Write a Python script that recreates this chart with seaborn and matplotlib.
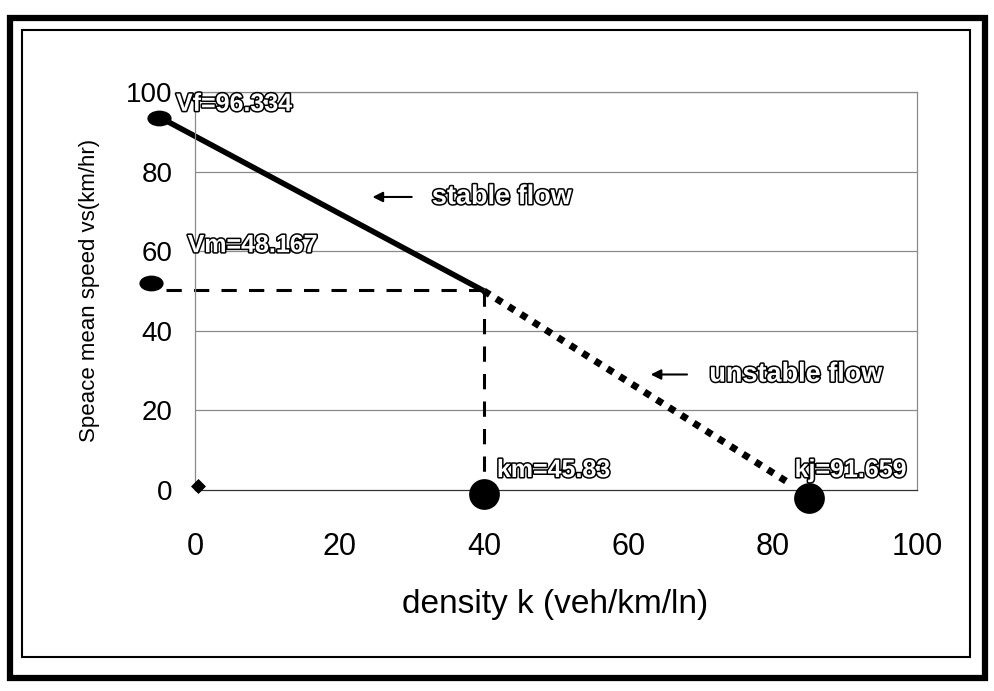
import matplotlib
matplotlib.use("Agg")
import matplotlib.pyplot as plt
import matplotlib.patheffects as pe
from matplotlib.path import Path
from matplotlib.patches import Rectangle
from matplotlib.transforms import Affine2D
import seaborn as sns

sns.set_theme(style="white")
plt.rcParams["font.family"] = ["Liberation Sans", "DejaVu Sans"]
plt.rcParams["text.color"] = "black"
plt.rcParams["axes.labelcolor"] = "black"
plt.rcParams["xtick.labelcolor"] = "black"
plt.rcParams["ytick.labelcolor"] = "black"

# values (density k, speed v)
stable_k = [-3.7, 40]
stable_v = [92.5, 50]
unstable_k = [40, 82]
unstable_v = [50, 2]
vm_k = [-4, 40]
vm_v = [50.3, 50.3]
km_k = [40, 40]
km_v = [50, 4]

ellipse_k = [-5, -6]
ellipse_v = [93.5, 52]
dot_k = [40, 85]
dot_v = [-1, -2]
diamond_k = [0.5]
diamond_v = [1]

labels = ["Vf=96.334", "Vm=48.167", "km=45.83", "kj=91.659"]
label_k = [-2.6, -1, 41.8, 83]
label_v = [97, 61.5, 5, 5]

flow_text = ["stable flow", "unstable flow"]
flow_k = [32.8, 71.2]
flow_v = [73.6, 29]
arrow_from = [30.4, 68.5]
arrow_to = [24.2, 62.7]

fig = plt.figure(figsize=(9.94, 6.91), dpi=100)
ax = fig.add_axes([0.196, 0.291, 0.727, 0.576])

# double frame around the whole chart
fig.patches.append(Rectangle((0.010, 0.019), 0.981, 0.955, transform=fig.transFigure,
                             fill=False, lw=4.5, ec="black"))
fig.patches.append(Rectangle((0.022, 0.049), 0.954, 0.907, transform=fig.transFigure,
                             fill=False, lw=1.5, ec="black"))

for y in [20, 40, 60, 80, 100]:
    ax.axhline(y, color="#8a8a8a", lw=0.9, zorder=0)

line_kw = dict(color="black", ax=ax, clip_on=False, estimator=None, sort=False)
sns.lineplot(x=stable_k, y=stable_v, lw=4, solid_capstyle="butt", **line_kw)
sns.lineplot(x=unstable_k, y=unstable_v, lw=5, linestyle=(0, (1, 1.1)),
             dash_capstyle="butt", **line_kw)
sns.lineplot(x=vm_k, y=vm_v, lw=2.2, linestyle=(0, (5, 4)), **line_kw)
sns.lineplot(x=km_k, y=km_v, lw=2.2, linestyle=(0, (5, 4)), **line_kw)

ellipse = Path.unit_circle().transformed(Affine2D().scale(1.6, 1.0))
sns.scatterplot(x=ellipse_k, y=ellipse_v, marker=ellipse, s=260, color="black",
                edgecolor="black", ax=ax, clip_on=False, zorder=5)
sns.scatterplot(x=dot_k, y=dot_v, marker="o", s=420, color="black",
                edgecolor="black", ax=ax, clip_on=False, zorder=5)
sns.scatterplot(x=diamond_k, y=diamond_v, marker="D", s=50, color="black",
                edgecolor="black", ax=ax, clip_on=False, zorder=5)

# hollow lettering: white fill with a thin black outline
outline = [pe.withStroke(linewidth=2.2, foreground="black")]
for txt, k, v in zip(labels, label_k, label_v):
    ax.text(k, v, txt, ha="left", va="center", fontsize=18, fontweight="bold",
            color="white", path_effects=outline, zorder=6)
for txt, k, v, a0, a1 in zip(flow_text, flow_k, flow_v, arrow_from, arrow_to):
    ax.text(k, v, txt, ha="left", va="center", fontsize=19.5, fontweight="bold",
            color="white", path_effects=outline, zorder=6)
    ax.annotate("", xy=(a1, v), xytext=(a0, v),
                arrowprops=dict(arrowstyle="-|>", color="black", lw=1.5,
                                mutation_scale=15))

ax.set_xlim(0, 100)
ax.set_ylim(0, 100)
ax.set_xticks([0, 20, 40, 60, 80, 100])
ax.set_yticks([0, 20, 40, 60, 80, 100])
ax.tick_params(axis="x", labelsize=22, pad=30, length=4, direction="in", color="#8a8a8a")
ax.tick_params(axis="y", labelsize=20, pad=16, length=0)
for s in ax.spines.values():
    s.set_color("#8a8a8a")
    s.set_linewidth(0.9)
ax.spines["bottom"].set_color("#333333")

ax.set_xlabel("density k (veh/km/ln)", fontsize=24)
ax.set_ylabel("Speace mean speed vs(km/hr)", fontsize=16)
ax.xaxis.set_label_coords(0.498, -0.25)
ax.yaxis.set_label_coords(-0.131, 0.5)

fig.savefig("out.png", dpi=100)
